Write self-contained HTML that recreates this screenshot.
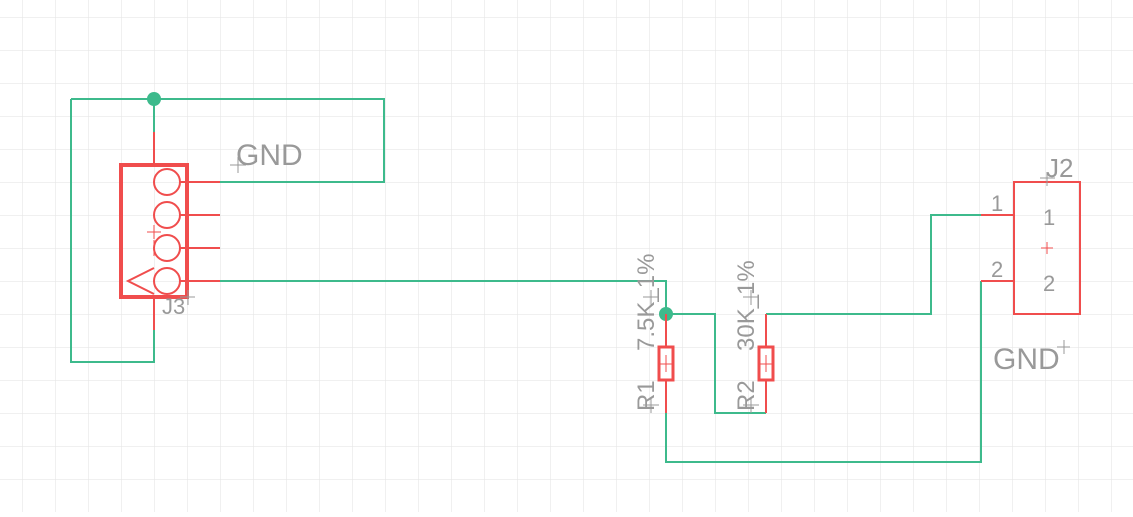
<!DOCTYPE html>
<html><head><style>body{margin:0;background:#fff}</style></head><body>
<svg width="1133" height="512" xmlns="http://www.w3.org/2000/svg" font-family="Liberation Sans, sans-serif">
<defs><pattern id="g" x="22" y="17" width="33" height="33" patternUnits="userSpaceOnUse"><path d="M0 0H33M0 0V33" stroke="#e6e6e6" stroke-width="1.2" fill="none"/></pattern></defs>
<rect width="1133" height="512" fill="url(#g)"/>
<g stroke="#3dba8c" stroke-width="2" fill="none">
<path d="M154 132V99M71 99H384V182H220M71 99V362H154V330"/>
<path d="M220 281H666V314H715V413H766M666 413V462H981V281M766 314H931V215H981"/>
</g>
<g fill="#3dba8c"><circle cx="154" cy="99" r="7"/><circle cx="666" cy="314" r="7"/></g>
<g stroke="#f04d4d" fill="none" stroke-width="2">
<path d="M154 132V165M154 297V330M180 182H220M180 215H220M180 248H220M180 281H220"/>
<rect x="121" y="165" width="66" height="132" stroke-width="4"/>
<circle cx="167" cy="182" r="13"/><circle cx="167" cy="215" r="13"/><circle cx="167" cy="248" r="13"/><circle cx="167" cy="281" r="13"/>
<path d="M154 268L128 281L154 294"/>
<path d="M154 240V256M147 232" stroke-width="1"/>
<path d="M147 232H161M154 225V239" stroke-width="1"/>
<path d="M666 314V347M666 380V413M766 314V347M766 380V413"/>
<rect x="659" y="347" width="14" height="33" stroke-width="3"/><rect x="759" y="347" width="14" height="33" stroke-width="3"/>
<path d="M666 355V372M660 364H672M766 355V372M760 364H772" stroke-width="1"/>
<path d="M981 215H1014M981 281H1014"/>
<rect x="1014" y="182" width="66" height="132"/>
<path d="M1047 242V254M1041 248H1053" stroke-width="1"/>
</g>
<g stroke="#999" stroke-width="1" fill="none">
<path d="M230 165H246M238 157V173M180 297H195M188 290V305M1040 178H1055M1047 172V186M1057 347H1070M1064 340V354M643 297H659M651 290V305M643 405H659M651 398V413M743 297H759M751 290V305M743 405H759M751 398V413"/>
</g>
<g fill="#999">
<text x="236" y="165" font-size="30">GND</text>
<text x="162" y="314" font-size="22">J3</text>
<text x="1046" y="177" font-size="26">J2</text>
<text x="991" y="211" font-size="22">1</text>
<text x="1043" y="225" font-size="22">1</text>
<text x="991" y="277" font-size="22">2</text>
<text x="1043" y="291" font-size="22">2</text>
<text x="993" y="369" font-size="30">GND</text>
<text transform="translate(654,411) rotate(-90)" font-size="24">R1</text>
<text transform="translate(654,351) rotate(-90)" font-size="24">7.5K_1%</text>
<text transform="translate(754,411) rotate(-90)" font-size="24">R2</text>
<text transform="translate(754,351) rotate(-90)" font-size="24">30K_1%</text>
</g>
</svg>
</body></html>
